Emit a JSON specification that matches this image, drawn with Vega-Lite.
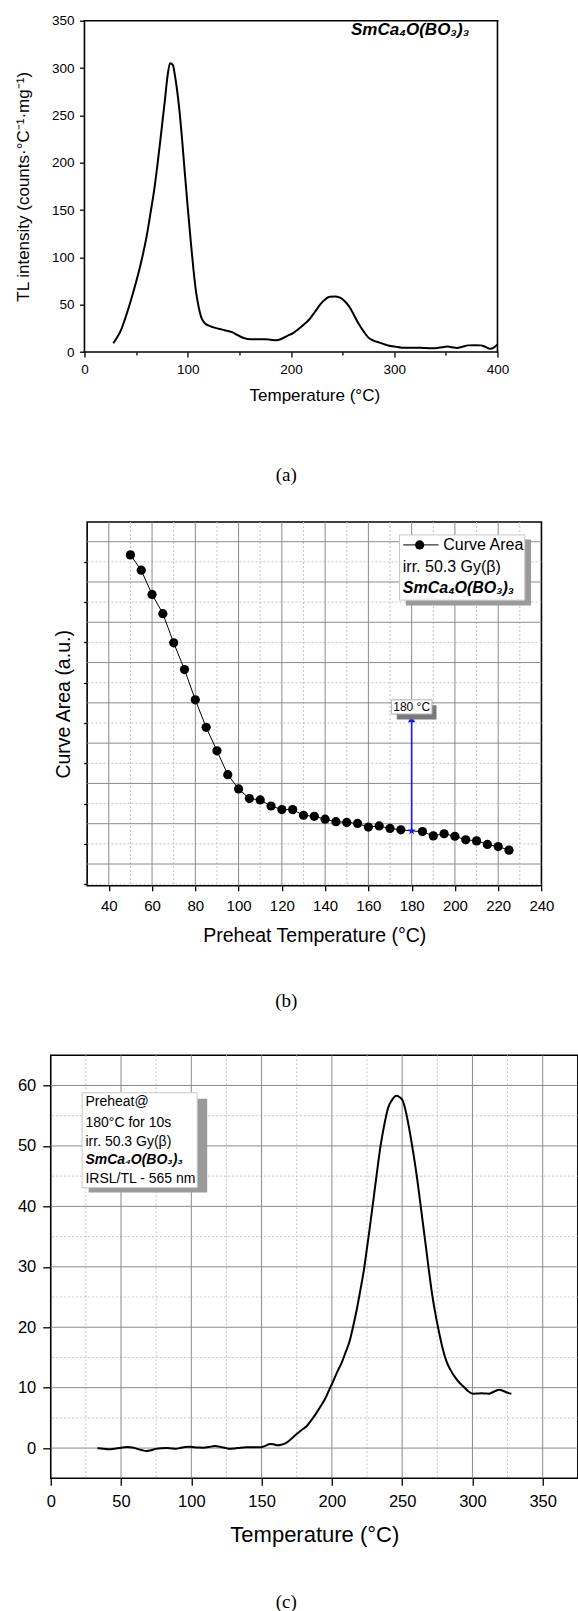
{
  "$schema": "https://vega.github.io/schema/vega-lite/v6.json",
  "autosize": {"type": "none"},
  "padding": {"left": 50.3, "top": 20.7, "right": 527.7, "bottom": 1590.3},
  "background": "white",
  "config": {
    "font": "Liberation Sans",
    "view": {"stroke": "black", "strokeWidth": 1.6},
    "axis": {"grid": false, "domain": false, "labelColor": "black", "titleColor": "black", "tickColor": "black", "tickWidth": 1.3, "labelFont": "Liberation Sans", "titleFont": "Liberation Sans", "titleFontWeight": "normal", "labelFlush": false, "labelOverlap": false},
    "title": {"font": "Liberation Serif", "fontSize": 19, "fontWeight": "normal", "color": "black"}
  },
  "datasets": {
    "one": [{"k": 0}],
    "tlA": [
      {"t": 27.9, "v": 9.2}, {"t": 32, "v": 16}, {"t": 35.7, "v": 24}, {"t": 39, "v": 34}, {"t": 42.9, "v": 47}, {"t": 48, "v": 66}, {"t": 53.6, "v": 89}, {"t": 57, "v": 105}, {"t": 60.7, "v": 125}, {"t": 64, "v": 147}, {"t": 67.9, "v": 174}, {"t": 71.5, "v": 205}, {"t": 75, "v": 238}, {"t": 78, "v": 267}, {"t": 80.4, "v": 291}, {"t": 82.9, "v": 305}, {"t": 85.7, "v": 303}, {"t": 87.5, "v": 293}, {"t": 89.3, "v": 280}, {"t": 92, "v": 255}, {"t": 94.6, "v": 224}, {"t": 97.3, "v": 188}, {"t": 100, "v": 153}, {"t": 102.7, "v": 120}, {"t": 105.4, "v": 89}, {"t": 108, "v": 64}, {"t": 110.7, "v": 47}, {"t": 113, "v": 37}, {"t": 116, "v": 31}, {"t": 120, "v": 28}, {"t": 125, "v": 26}, {"t": 130, "v": 24.5}, {"t": 135.7, "v": 23}, {"t": 142.9, "v": 21}, {"t": 148, "v": 18}, {"t": 153.6, "v": 15}, {"t": 158, "v": 13.8}, {"t": 164.3, "v": 13.4}, {"t": 170, "v": 13.4}, {"t": 175, "v": 13.4}, {"t": 180, "v": 13}, {"t": 185.7, "v": 12.4}, {"t": 191, "v": 14}, {"t": 196.4, "v": 17}, {"t": 202, "v": 20}, {"t": 207, "v": 24}, {"t": 212, "v": 28.5}, {"t": 217.9, "v": 34.6}, {"t": 223, "v": 42}, {"t": 228.6, "v": 50.5}, {"t": 233, "v": 55.5}, {"t": 237.5, "v": 58.3}, {"t": 242.9, "v": 58.6}, {"t": 246.5, "v": 57.8}, {"t": 250, "v": 55.8}, {"t": 253.5, "v": 52}, {"t": 257, "v": 47}, {"t": 261.5, "v": 38}, {"t": 266, "v": 29}, {"t": 270.5, "v": 21.5}, {"t": 275, "v": 15.2}, {"t": 280, "v": 12}, {"t": 285.7, "v": 9.9}, {"t": 291, "v": 8}, {"t": 296.4, "v": 6.4}, {"t": 301.5, "v": 5.5}, {"t": 307, "v": 4.6}, {"t": 314, "v": 4.4}, {"t": 321, "v": 4.6}, {"t": 328, "v": 4.3}, {"t": 335.7, "v": 3.9}, {"t": 343, "v": 4.5}, {"t": 351.8, "v": 5.7}, {"t": 356, "v": 5}, {"t": 360.7, "v": 4.2}, {"t": 366, "v": 5.5}, {"t": 371.4, "v": 7}, {"t": 378, "v": 7.2}, {"t": 383.9, "v": 7}, {"t": 388, "v": 5.5}, {"t": 392.9, "v": 3.5}, {"t": 396.4, "v": 4.6}, {"t": 400, "v": 8.1}
    ],
    "pre": [
      {"t": 50, "area": 17346}, {"t": 55, "area": 16585}, {"t": 60, "area": 15383}, {"t": 65, "area": 14428}, {"t": 70, "area": 12978}, {"t": 75, "area": 11652}, {"t": 80, "area": 10149}, {"t": 85, "area": 8788}, {"t": 90, "area": 7620}, {"t": 95, "area": 6435}, {"t": 100, "area": 5728}, {"t": 105, "area": 5251}, {"t": 110, "area": 5180}, {"t": 115, "area": 4880}, {"t": 120, "area": 4703}, {"t": 125, "area": 4700}, {"t": 130, "area": 4420}, {"t": 135, "area": 4367}, {"t": 140, "area": 4225}, {"t": 145, "area": 4101}, {"t": 150, "area": 4066}, {"t": 155, "area": 4013}, {"t": 160, "area": 3836}, {"t": 165, "area": 3889}, {"t": 170, "area": 3765}, {"t": 175, "area": 3695}, {"t": 180, "area": 3642}, {"t": 185, "area": 3608}, {"t": 190, "area": 3396}, {"t": 195, "area": 3502}, {"t": 200, "area": 3378}, {"t": 205, "area": 3201}, {"t": 210, "area": 3148}, {"t": 215, "area": 2971}, {"t": 220, "area": 2865}, {"t": 225, "area": 2689}
    ],
    "tlC": [
      {"t": 33.3, "v": 0}, {"t": 37.5, "v": -0.1}, {"t": 41.9, "v": -0.2}, {"t": 45, "v": -0.1}, {"t": 48.5, "v": 0}, {"t": 52, "v": 0.15}, {"t": 55, "v": 0.2}, {"t": 58, "v": 0.1}, {"t": 61.6, "v": -0.13}, {"t": 65, "v": -0.35}, {"t": 68.2, "v": -0.47}, {"t": 71.5, "v": -0.35}, {"t": 74.7, "v": -0.13}, {"t": 78.5, "v": -0.02}, {"t": 82.6, "v": 0}, {"t": 86, "v": -0.05}, {"t": 89.1, "v": -0.1}, {"t": 92.5, "v": 0.05}, {"t": 95.7, "v": 0.2}, {"t": 99, "v": 0.22}, {"t": 102.2, "v": 0.13}, {"t": 105.5, "v": 0.08}, {"t": 108.8, "v": 0.07}, {"t": 112.5, "v": 0.18}, {"t": 116.7, "v": 0.33}, {"t": 119.5, "v": 0.25}, {"t": 121.9, "v": 0.13}, {"t": 124.5, "v": 0}, {"t": 127.2, "v": -0.13}, {"t": 131, "v": -0.05}, {"t": 135, "v": 0.07}, {"t": 139, "v": 0.12}, {"t": 142.9, "v": 0.13}, {"t": 146, "v": 0.12}, {"t": 149.4, "v": 0.13}, {"t": 152.5, "v": 0.35}, {"t": 156, "v": 0.67}, {"t": 158.5, "v": 0.62}, {"t": 161.2, "v": 0.47}, {"t": 164, "v": 0.55}, {"t": 166.5, "v": 0.73}, {"t": 170, "v": 1.3}, {"t": 174.3, "v": 2.2}, {"t": 178, "v": 2.9}, {"t": 182.2, "v": 3.66}, {"t": 186, "v": 4.8}, {"t": 190.1, "v": 6.2}, {"t": 193, "v": 7.3}, {"t": 195.3, "v": 8.2}, {"t": 198, "v": 9.6}, {"t": 200.6, "v": 10.9}, {"t": 204, "v": 12.7}, {"t": 207.1, "v": 14.2}, {"t": 210, "v": 16}, {"t": 212.4, "v": 17.5}, {"t": 215, "v": 20}, {"t": 217.6, "v": 22.8}, {"t": 220, "v": 25.8}, {"t": 222.8, "v": 29.5}, {"t": 224.8, "v": 32.8}, {"t": 226.8, "v": 36.2}, {"t": 229.5, "v": 41}, {"t": 232, "v": 45.5}, {"t": 234.5, "v": 49.8}, {"t": 237.3, "v": 53.5}, {"t": 240, "v": 56.3}, {"t": 242.5, "v": 57.5}, {"t": 245.9, "v": 58.3}, {"t": 248, "v": 58.1}, {"t": 250.4, "v": 57.5}, {"t": 253, "v": 55.3}, {"t": 255.6, "v": 52.1}, {"t": 258.3, "v": 48.3}, {"t": 260.9, "v": 44.2}, {"t": 263.5, "v": 39.5}, {"t": 266.1, "v": 34.8}, {"t": 268.7, "v": 30}, {"t": 271.3, "v": 25.5}, {"t": 274, "v": 21.8}, {"t": 276.6, "v": 18.8}, {"t": 279, "v": 16.3}, {"t": 281.8, "v": 14.2}, {"t": 284.5, "v": 12.9}, {"t": 287.1, "v": 11.9}, {"t": 290.5, "v": 10.9}, {"t": 293.6, "v": 10.2}, {"t": 297, "v": 9.4}, {"t": 300.2, "v": 9}, {"t": 303.5, "v": 9.02}, {"t": 306.7, "v": 9.06}, {"t": 309.5, "v": 9.02}, {"t": 312, "v": 9}, {"t": 314, "v": 9.2}, {"t": 315.9, "v": 9.4}, {"t": 319, "v": 9.66}, {"t": 322.5, "v": 9.4}, {"t": 325, "v": 9.15}, {"t": 327.7, "v": 9}
    ]
  },
  "spacing": 169.3,
  "bounds": "flush",
  "center": true,
  "vconcat": [
    {
      "width": 459.7, "height": 331.3,
      "view": {"stroke": null},
      "title": {"text": "(a)", "orient": "bottom", "anchor": "middle", "frame": "group", "offset": 62, "dx": -28},
      "layer": [
        {"data": {"name": "tlA"},
         "mark": {"type": "line", "color": "black", "strokeWidth": 2, "interpolate": "monotone"},
         "encoding": {
           "x": {"field": "t", "type": "quantitative", "scale": {"domain": [0, 445.2], "nice": false, "zero": false},
                 "axis": {"orient": "bottom", "values": [0, 50, 100, 150, 200, 250, 300, 350, 400], "tickSize": {"condition": {"test": "datum.value % 100 !== 0", "value": 3}, "value": 5}, "labelExpr": "datum.value % 100 === 0 ? datum.label : ''", "labelFontSize": 13.5, "labelPadding": 5, "title": "Temperature (°C)", "titleFontSize": 17, "titlePadding": 12}},
           "y": {"field": "v", "type": "quantitative", "scale": {"domain": [0, 350], "nice": false, "zero": false},
                 "axis": {"orient": "left", "values": [0, 25, 50, 75, 100, 125, 150, 175, 200, 225, 250, 275, 300, 325, 350], "tickSize": {"condition": {"test": "datum.value % 50 !== 0", "value": 3}, "value": 5}, "labelExpr": "datum.value % 50 === 0 ? datum.label : ''", "labelFontSize": 13.5, "labelPadding": 5.5, "title": "TL intensity (counts·°C⁻¹·mg⁻¹)", "titleFontSize": 17, "titlePadding": 19}}}},
        {"data": {"name": "one"}, "mark": {"type": "rule", "color": "black", "strokeWidth": 1.6, "strokeCap": "square"}, "encoding": {"x": {"datum": 0, "type": "quantitative"}}},
        {"data": {"name": "one"}, "mark": {"type": "rule", "color": "black", "strokeWidth": 1.6, "strokeCap": "square"}, "encoding": {"x": {"datum": 400, "type": "quantitative"}}},
        {"data": {"name": "one"}, "mark": {"type": "rule", "color": "black", "strokeWidth": 1.6, "strokeCap": "square"}, "encoding": {"x": {"datum": 0, "type": "quantitative"}, "x2": {"datum": 400}, "y": {"datum": 350, "type": "quantitative"}}},
        {"data": {"name": "one"}, "mark": {"type": "rule", "color": "black", "strokeWidth": 1.6, "strokeCap": "square"}, "encoding": {"x": {"datum": 0, "type": "quantitative"}, "x2": {"datum": 400}, "y": {"datum": 0, "type": "quantitative"}}},
        {"data": {"values": [{"label": "SmCa₄O(BO₃)₃"}]},
         "mark": {"type": "text", "fontSize": 17, "fontWeight": "bold", "fontStyle": "italic", "align": "center", "baseline": "alphabetic", "color": "black"},
         "encoding": {"x": {"datum": 315.4, "type": "quantitative"}, "y": {"datum": 334.4, "type": "quantitative"}, "text": {"field": "label"}}}
      ]
    },
    {
      "width": 454.3, "height": 363.7,
      "title": {"text": "(b)", "orient": "bottom", "anchor": "middle", "frame": "group", "offset": 47, "dx": -28},
      "layer": [
        {"data": {"name": "one"}, "mark": {"type": "rule", "color": "#c4c4c4", "strokeWidth": 1, "strokeDash": [2, 2]}, "encoding": {"x": {"datum": 50, "type": "quantitative", "scale": {"domain": [30, 240], "nice": false, "zero": false}}}},
        {"data": {"name": "one"}, "mark": {"type": "rule", "color": "#c4c4c4", "strokeWidth": 1, "strokeDash": [2, 2]}, "encoding": {"x": {"datum": 70, "type": "quantitative"}}},
        {"data": {"name": "one"}, "mark": {"type": "rule", "color": "#c4c4c4", "strokeWidth": 1, "strokeDash": [2, 2]}, "encoding": {"x": {"datum": 90, "type": "quantitative"}}},
        {"data": {"name": "one"}, "mark": {"type": "rule", "color": "#c4c4c4", "strokeWidth": 1, "strokeDash": [2, 2]}, "encoding": {"x": {"datum": 110, "type": "quantitative"}}},
        {"data": {"name": "one"}, "mark": {"type": "rule", "color": "#c4c4c4", "strokeWidth": 1, "strokeDash": [2, 2]}, "encoding": {"x": {"datum": 130, "type": "quantitative"}}},
        {"data": {"name": "one"}, "mark": {"type": "rule", "color": "#c4c4c4", "strokeWidth": 1, "strokeDash": [2, 2]}, "encoding": {"x": {"datum": 150, "type": "quantitative"}}},
        {"data": {"name": "one"}, "mark": {"type": "rule", "color": "#c4c4c4", "strokeWidth": 1, "strokeDash": [2, 2]}, "encoding": {"x": {"datum": 170, "type": "quantitative"}}},
        {"data": {"name": "one"}, "mark": {"type": "rule", "color": "#c4c4c4", "strokeWidth": 1, "strokeDash": [2, 2]}, "encoding": {"x": {"datum": 190, "type": "quantitative"}}},
        {"data": {"name": "one"}, "mark": {"type": "rule", "color": "#c4c4c4", "strokeWidth": 1, "strokeDash": [2, 2]}, "encoding": {"x": {"datum": 210, "type": "quantitative"}}},
        {"data": {"name": "one"}, "mark": {"type": "rule", "color": "#c4c4c4", "strokeWidth": 1, "strokeDash": [2, 2]}, "encoding": {"x": {"datum": 230, "type": "quantitative"}}},
        {"data": {"name": "one"}, "mark": {"type": "rule", "color": "#c4c4c4", "strokeWidth": 1, "strokeDash": [2, 2]}, "encoding": {"y": {"datum": 1000, "type": "quantitative", "scale": {"domain": [923, 18978], "nice": false, "zero": false}}}},
        {"data": {"name": "one"}, "mark": {"type": "rule", "color": "#c4c4c4", "strokeWidth": 1, "strokeDash": [2, 2]}, "encoding": {"y": {"datum": 3000, "type": "quantitative"}}},
        {"data": {"name": "one"}, "mark": {"type": "rule", "color": "#c4c4c4", "strokeWidth": 1, "strokeDash": [2, 2]}, "encoding": {"y": {"datum": 5000, "type": "quantitative"}}},
        {"data": {"name": "one"}, "mark": {"type": "rule", "color": "#c4c4c4", "strokeWidth": 1, "strokeDash": [2, 2]}, "encoding": {"y": {"datum": 7000, "type": "quantitative"}}},
        {"data": {"name": "one"}, "mark": {"type": "rule", "color": "#c4c4c4", "strokeWidth": 1, "strokeDash": [2, 2]}, "encoding": {"y": {"datum": 9000, "type": "quantitative"}}},
        {"data": {"name": "one"}, "mark": {"type": "rule", "color": "#c4c4c4", "strokeWidth": 1, "strokeDash": [2, 2]}, "encoding": {"y": {"datum": 11000, "type": "quantitative"}}},
        {"data": {"name": "one"}, "mark": {"type": "rule", "color": "#c4c4c4", "strokeWidth": 1, "strokeDash": [2, 2]}, "encoding": {"y": {"datum": 13000, "type": "quantitative"}}},
        {"data": {"name": "one"}, "mark": {"type": "rule", "color": "#c4c4c4", "strokeWidth": 1, "strokeDash": [2, 2]}, "encoding": {"y": {"datum": 15000, "type": "quantitative"}}},
        {"data": {"name": "one"}, "mark": {"type": "rule", "color": "#c4c4c4", "strokeWidth": 1, "strokeDash": [2, 2]}, "encoding": {"y": {"datum": 17000, "type": "quantitative"}}},
        {"data": {"name": "one"}, "mark": {"type": "rule", "color": "#8a8a8a", "strokeWidth": 1}, "encoding": {"x": {"datum": 40, "type": "quantitative"}}},
        {"data": {"name": "one"}, "mark": {"type": "rule", "color": "#8a8a8a", "strokeWidth": 1}, "encoding": {"x": {"datum": 60, "type": "quantitative"}}},
        {"data": {"name": "one"}, "mark": {"type": "rule", "color": "#8a8a8a", "strokeWidth": 1}, "encoding": {"x": {"datum": 80, "type": "quantitative"}}},
        {"data": {"name": "one"}, "mark": {"type": "rule", "color": "#8a8a8a", "strokeWidth": 1}, "encoding": {"x": {"datum": 100, "type": "quantitative"}}},
        {"data": {"name": "one"}, "mark": {"type": "rule", "color": "#8a8a8a", "strokeWidth": 1}, "encoding": {"x": {"datum": 120, "type": "quantitative"}}},
        {"data": {"name": "one"}, "mark": {"type": "rule", "color": "#8a8a8a", "strokeWidth": 1}, "encoding": {"x": {"datum": 140, "type": "quantitative"}}},
        {"data": {"name": "one"}, "mark": {"type": "rule", "color": "#8a8a8a", "strokeWidth": 1}, "encoding": {"x": {"datum": 160, "type": "quantitative"}}},
        {"data": {"name": "one"}, "mark": {"type": "rule", "color": "#8a8a8a", "strokeWidth": 1}, "encoding": {"x": {"datum": 180, "type": "quantitative"}}},
        {"data": {"name": "one"}, "mark": {"type": "rule", "color": "#8a8a8a", "strokeWidth": 1}, "encoding": {"x": {"datum": 200, "type": "quantitative"}}},
        {"data": {"name": "one"}, "mark": {"type": "rule", "color": "#8a8a8a", "strokeWidth": 1}, "encoding": {"x": {"datum": 220, "type": "quantitative"}}},
        {"data": {"name": "one"}, "mark": {"type": "rule", "color": "#8a8a8a", "strokeWidth": 1}, "encoding": {"y": {"datum": 2000, "type": "quantitative"}}},
        {"data": {"name": "one"}, "mark": {"type": "rule", "color": "#8a8a8a", "strokeWidth": 1}, "encoding": {"y": {"datum": 4000, "type": "quantitative"}}},
        {"data": {"name": "one"}, "mark": {"type": "rule", "color": "#8a8a8a", "strokeWidth": 1}, "encoding": {"y": {"datum": 6000, "type": "quantitative"}}},
        {"data": {"name": "one"}, "mark": {"type": "rule", "color": "#8a8a8a", "strokeWidth": 1}, "encoding": {"y": {"datum": 8000, "type": "quantitative"}}},
        {"data": {"name": "one"}, "mark": {"type": "rule", "color": "#8a8a8a", "strokeWidth": 1}, "encoding": {"y": {"datum": 10000, "type": "quantitative"}}},
        {"data": {"name": "one"}, "mark": {"type": "rule", "color": "#8a8a8a", "strokeWidth": 1}, "encoding": {"y": {"datum": 12000, "type": "quantitative"}}},
        {"data": {"name": "one"}, "mark": {"type": "rule", "color": "#8a8a8a", "strokeWidth": 1}, "encoding": {"y": {"datum": 14000, "type": "quantitative"}}},
        {"data": {"name": "one"}, "mark": {"type": "rule", "color": "#8a8a8a", "strokeWidth": 1}, "encoding": {"y": {"datum": 16000, "type": "quantitative"}}},
        {"data": {"name": "one"}, "mark": {"type": "rule", "color": "#8a8a8a", "strokeWidth": 1}, "encoding": {"y": {"datum": 18000, "type": "quantitative"}}},
        {"data": {"name": "pre"},
         "mark": {"type": "line", "color": "black", "strokeWidth": 1},
         "encoding": {
           "x": {"field": "t", "type": "quantitative",
                 "axis": {"orient": "bottom", "values": [40, 50, 60, 70, 80, 90, 100, 110, 120, 130, 140, 150, 160, 170, 180, 190, 200, 210, 220, 230, 240],
                          "tickSize": {"condition": {"test": "datum.value % 20 !== 0", "value": 3.5}, "value": 5},
                          "labelExpr": "datum.value % 20 === 0 ? datum.label : ''", "labelFontSize": 15, "labelPadding": 7.5, "title": "Preheat Temperature (°C)", "titleFontSize": 19.5, "titlePadding": 13}},
           "y": {"field": "area", "type": "quantitative",
                 "axis": {"orient": "left", "values": [1000, 2000, 3000, 4000, 5000, 6000, 7000, 8000, 9000, 10000, 11000, 12000, 13000, 14000, 15000, 16000, 17000, 18000],
                          "tickSize": {"condition": {"test": "datum.value % 2000 !== 0", "value": 3.5}, "value": 6.5},
                          "labelExpr": "datum.value % 2000 === 0 ? datum.label : ''", "labelFontSize": 15, "labelPadding": 5.5, "title": "Curve Area (a.u.)", "titleFontSize": 19.5, "titlePadding": 5}}}},
        {"data": {"name": "pre"},
         "transform": [{"filter": "datum.t != 180"}],
         "mark": {"type": "circle", "color": "black", "size": 85, "opacity": 1},
         "encoding": {"x": {"field": "t", "type": "quantitative"}, "y": {"field": "area", "type": "quantitative"}}},
        {"data": {"name": "one"}, "mark": {"type": "rule", "color": "#1a1aff", "strokeWidth": 1.6}, "encoding": {"x": {"datum": 180, "type": "quantitative"}, "y": {"datum": 3642, "type": "quantitative"}, "y2": {"datum": 9100}}},
        {"data": {"name": "one"}, "mark": {"type": "point", "shape": "triangle-up", "filled": true, "color": "#1a1aff", "size": 55, "opacity": 1}, "encoding": {"x": {"datum": 180, "type": "quantitative"}, "y": {"datum": 9200, "type": "quantitative"}}},
        {"data": {"name": "one"}, "mark": {"type": "point", "shape": "M0,-1L0.2245,-0.309L0.951,-0.309L0.363,0.118L0.588,0.809L0,0.382L-0.588,0.809L-0.363,0.118L-0.951,-0.309L-0.2245,-0.309Z", "filled": true, "color": "#1a1aff", "size": 75, "opacity": 1}, "encoding": {"x": {"datum": 180, "type": "quantitative"}, "y": {"datum": 3642, "type": "quantitative"}}},
        {"data": {"name": "one"}, "mark": {"type": "rule", "color": "#7a7a7a", "strokeWidth": 14.2}, "encoding": {"x": {"datum": 173.1, "type": "quantitative"}, "x2": {"datum": 191.5}, "y": {"datum": 9531.5, "type": "quantitative"}}},
        {"data": {"name": "one"}, "mark": {"type": "rule", "color": "white", "strokeWidth": 14.2}, "encoding": {"x": {"datum": 170.6, "type": "quantitative"}, "x2": {"datum": 189.4}, "y": {"datum": 9796.5, "type": "quantitative"}}},
        {"data": {"name": "one"}, "mark": {"type": "rule", "color": "#b0b0b0", "strokeWidth": 1}, "encoding": {"x": {"datum": 170.6, "type": "quantitative"}, "x2": {"datum": 189.4}, "y": {"datum": 10150, "type": "quantitative"}}},
        {"data": {"name": "one"}, "mark": {"type": "rule", "color": "#b0b0b0", "strokeWidth": 1}, "encoding": {"x": {"datum": 170.6, "type": "quantitative"}, "x2": {"datum": 189.4}, "y": {"datum": 9443, "type": "quantitative"}}},
        {"data": {"name": "one"}, "mark": {"type": "rule", "color": "#b0b0b0", "strokeWidth": 1}, "encoding": {"x": {"datum": 170.6, "type": "quantitative"}, "y": {"datum": 9443, "type": "quantitative"}, "y2": {"datum": 10150}}},
        {"data": {"name": "one"}, "mark": {"type": "rule", "color": "#b0b0b0", "strokeWidth": 1}, "encoding": {"x": {"datum": 189.4, "type": "quantitative"}, "y": {"datum": 9443, "type": "quantitative"}, "y2": {"datum": 10150}}},
        {"data": {"values": [{"label": "180 °C"}]}, "mark": {"type": "text", "fontSize": 12, "align": "center", "baseline": "middle", "color": "black"}, "encoding": {"x": {"datum": 180, "type": "quantitative"}, "y": {"datum": 9790, "type": "quantitative"}, "text": {"field": "label"}}},
        {"data": {"name": "one"}, "mark": {"type": "rule", "color": "#9a9a9a", "strokeWidth": 65.9}, "encoding": {"x": {"datum": 177.3, "type": "quantitative"}, "x2": {"datum": 235.2}, "y": {"datum": 16470.5, "type": "quantitative"}}},
        {"data": {"name": "one"}, "mark": {"type": "rule", "color": "white", "strokeWidth": 65.2}, "encoding": {"x": {"datum": 174.4, "type": "quantitative"}, "x2": {"datum": 232.3}, "y": {"datum": 16718, "type": "quantitative"}}},
        {"data": {"name": "one"}, "mark": {"type": "rule", "color": "#c8c8c8", "strokeWidth": 1}, "encoding": {"x": {"datum": 174.4, "type": "quantitative"}, "x2": {"datum": 232.3}, "y": {"datum": 18336, "type": "quantitative"}}},
        {"data": {"name": "one"}, "mark": {"type": "rule", "color": "#c8c8c8", "strokeWidth": 1}, "encoding": {"x": {"datum": 174.4, "type": "quantitative"}, "x2": {"datum": 232.3}, "y": {"datum": 15100, "type": "quantitative"}}},
        {"data": {"name": "one"}, "mark": {"type": "rule", "color": "#c8c8c8", "strokeWidth": 1}, "encoding": {"x": {"datum": 174.4, "type": "quantitative"}, "y": {"datum": 15100, "type": "quantitative"}, "y2": {"datum": 18336}}},
        {"data": {"name": "one"}, "mark": {"type": "rule", "color": "#c8c8c8", "strokeWidth": 1}, "encoding": {"x": {"datum": 232.3, "type": "quantitative"}, "y": {"datum": 15100, "type": "quantitative"}, "y2": {"datum": 18336}}},
        {"data": {"name": "one"}, "mark": {"type": "rule", "color": "black", "strokeWidth": 1}, "encoding": {"x": {"datum": 176.1, "type": "quantitative"}, "x2": {"datum": 192.4}, "y": {"datum": 17841, "type": "quantitative"}}},
        {"data": {"name": "one"}, "mark": {"type": "circle", "color": "black", "size": 85, "opacity": 1}, "encoding": {"x": {"datum": 183.7, "type": "quantitative"}, "y": {"datum": 17841, "type": "quantitative"}}},
        {"data": {"values": [{"label": "Curve Area"}]}, "mark": {"type": "text", "fontSize": 16, "align": "left", "baseline": "middle", "color": "black"}, "encoding": {"x": {"datum": 194.6, "type": "quantitative"}, "y": {"datum": 17841, "type": "quantitative"}, "text": {"field": "label"}}},
        {"data": {"values": [{"label": "irr. 50.3 Gy(β)"}]}, "mark": {"type": "text", "fontSize": 16, "align": "left", "baseline": "middle", "color": "black"}, "encoding": {"x": {"datum": 175.9, "type": "quantitative"}, "y": {"datum": 16745, "type": "quantitative"}, "text": {"field": "label"}}},
        {"data": {"values": [{"label": "SmCa₄O(BO₃)₃"}]}, "mark": {"type": "text", "fontSize": 16, "fontWeight": "bold", "fontStyle": "italic", "align": "left", "baseline": "middle", "color": "black"}, "encoding": {"x": {"datum": 175.9, "type": "quantitative"}, "y": {"datum": 15719, "type": "quantitative"}, "text": {"field": "label"}}}
      ]
    },
    {
      "width": 527.1, "height": 423,
      "title": {"text": "(c)", "orient": "bottom", "anchor": "middle", "frame": "group", "offset": 47.5, "dx": -28},
      "layer": [
        {"data": {"name": "one"}, "mark": {"type": "rule", "color": "#c4c4c4", "strokeWidth": 1, "strokeDash": [2, 2]}, "encoding": {"x": {"datum": 25, "type": "quantitative", "scale": {"domain": [0, 375], "nice": false, "zero": false}}}},
        {"data": {"name": "one"}, "mark": {"type": "rule", "color": "#c4c4c4", "strokeWidth": 1, "strokeDash": [2, 2]}, "encoding": {"x": {"datum": 75, "type": "quantitative"}}},
        {"data": {"name": "one"}, "mark": {"type": "rule", "color": "#c4c4c4", "strokeWidth": 1, "strokeDash": [2, 2]}, "encoding": {"x": {"datum": 125, "type": "quantitative"}}},
        {"data": {"name": "one"}, "mark": {"type": "rule", "color": "#c4c4c4", "strokeWidth": 1, "strokeDash": [2, 2]}, "encoding": {"x": {"datum": 175, "type": "quantitative"}}},
        {"data": {"name": "one"}, "mark": {"type": "rule", "color": "#c4c4c4", "strokeWidth": 1, "strokeDash": [2, 2]}, "encoding": {"x": {"datum": 225, "type": "quantitative"}}},
        {"data": {"name": "one"}, "mark": {"type": "rule", "color": "#c4c4c4", "strokeWidth": 1, "strokeDash": [2, 2]}, "encoding": {"x": {"datum": 275, "type": "quantitative"}}},
        {"data": {"name": "one"}, "mark": {"type": "rule", "color": "#c4c4c4", "strokeWidth": 1, "strokeDash": [2, 2]}, "encoding": {"x": {"datum": 325, "type": "quantitative"}}},
        {"data": {"name": "one"}, "mark": {"type": "rule", "color": "#c4c4c4", "strokeWidth": 1, "strokeDash": [2, 2]}, "encoding": {"y": {"datum": 5, "type": "quantitative", "scale": {"domain": [-5, 65], "nice": false, "zero": false}}}},
        {"data": {"name": "one"}, "mark": {"type": "rule", "color": "#c4c4c4", "strokeWidth": 1, "strokeDash": [2, 2]}, "encoding": {"y": {"datum": 15, "type": "quantitative"}}},
        {"data": {"name": "one"}, "mark": {"type": "rule", "color": "#c4c4c4", "strokeWidth": 1, "strokeDash": [2, 2]}, "encoding": {"y": {"datum": 25, "type": "quantitative"}}},
        {"data": {"name": "one"}, "mark": {"type": "rule", "color": "#c4c4c4", "strokeWidth": 1, "strokeDash": [2, 2]}, "encoding": {"y": {"datum": 35, "type": "quantitative"}}},
        {"data": {"name": "one"}, "mark": {"type": "rule", "color": "#c4c4c4", "strokeWidth": 1, "strokeDash": [2, 2]}, "encoding": {"y": {"datum": 45, "type": "quantitative"}}},
        {"data": {"name": "one"}, "mark": {"type": "rule", "color": "#c4c4c4", "strokeWidth": 1, "strokeDash": [2, 2]}, "encoding": {"y": {"datum": 55, "type": "quantitative"}}},
        {"data": {"name": "one"}, "mark": {"type": "rule", "color": "#8a8a8a", "strokeWidth": 1}, "encoding": {"x": {"datum": 50, "type": "quantitative"}}},
        {"data": {"name": "one"}, "mark": {"type": "rule", "color": "#8a8a8a", "strokeWidth": 1}, "encoding": {"x": {"datum": 100, "type": "quantitative"}}},
        {"data": {"name": "one"}, "mark": {"type": "rule", "color": "#8a8a8a", "strokeWidth": 1}, "encoding": {"x": {"datum": 150, "type": "quantitative"}}},
        {"data": {"name": "one"}, "mark": {"type": "rule", "color": "#8a8a8a", "strokeWidth": 1}, "encoding": {"x": {"datum": 200, "type": "quantitative"}}},
        {"data": {"name": "one"}, "mark": {"type": "rule", "color": "#8a8a8a", "strokeWidth": 1}, "encoding": {"x": {"datum": 250, "type": "quantitative"}}},
        {"data": {"name": "one"}, "mark": {"type": "rule", "color": "#8a8a8a", "strokeWidth": 1}, "encoding": {"x": {"datum": 300, "type": "quantitative"}}},
        {"data": {"name": "one"}, "mark": {"type": "rule", "color": "#8a8a8a", "strokeWidth": 1}, "encoding": {"x": {"datum": 350, "type": "quantitative"}}},
        {"data": {"name": "one"}, "mark": {"type": "rule", "color": "#8a8a8a", "strokeWidth": 1}, "encoding": {"y": {"datum": 0, "type": "quantitative"}}},
        {"data": {"name": "one"}, "mark": {"type": "rule", "color": "#8a8a8a", "strokeWidth": 1}, "encoding": {"y": {"datum": 10, "type": "quantitative"}}},
        {"data": {"name": "one"}, "mark": {"type": "rule", "color": "#8a8a8a", "strokeWidth": 1}, "encoding": {"y": {"datum": 20, "type": "quantitative"}}},
        {"data": {"name": "one"}, "mark": {"type": "rule", "color": "#8a8a8a", "strokeWidth": 1}, "encoding": {"y": {"datum": 30, "type": "quantitative"}}},
        {"data": {"name": "one"}, "mark": {"type": "rule", "color": "#8a8a8a", "strokeWidth": 1}, "encoding": {"y": {"datum": 40, "type": "quantitative"}}},
        {"data": {"name": "one"}, "mark": {"type": "rule", "color": "#8a8a8a", "strokeWidth": 1}, "encoding": {"y": {"datum": 50, "type": "quantitative"}}},
        {"data": {"name": "one"}, "mark": {"type": "rule", "color": "#8a8a8a", "strokeWidth": 1}, "encoding": {"y": {"datum": 60, "type": "quantitative"}}},
        {"data": {"name": "tlC"},
         "mark": {"type": "line", "color": "black", "strokeWidth": 2, "interpolate": "monotone"},
         "encoding": {
           "x": {"field": "t", "type": "quantitative",
                 "axis": {"orient": "bottom", "values": [0, 25, 50, 75, 100, 125, 150, 175, 200, 225, 250, 275, 300, 325, 350],
                          "tickSize": {"condition": {"test": "datum.value % 50 !== 0", "value": 4}, "value": 7},
                          "labelExpr": "datum.value % 50 === 0 ? datum.label : ''", "labelFontSize": 16.5, "labelPadding": 8.5, "title": "Temperature (°C)", "titleFontSize": 22, "titlePadding": 14}},
           "y": {"field": "v", "type": "quantitative",
                 "axis": {"orient": "left", "values": [0, 5, 10, 15, 20, 25, 30, 35, 40, 45, 50, 55, 60],
                          "tickSize": {"condition": {"test": "datum.value % 10 !== 0", "value": 4}, "value": 8},
                          "labelExpr": "datum.value % 10 === 0 ? datum.label : ''", "labelFontSize": 16.5, "labelPadding": 7, "title": null}}}},
        {"data": {"name": "one"}, "mark": {"type": "rule", "color": "#9a9a9a", "strokeWidth": 93.7}, "encoding": {"x": {"datum": 27.0, "type": "quantitative"}, "x2": {"datum": 111.3}, "y": {"datum": 50.05, "type": "quantitative"}}},
        {"data": {"name": "one"}, "mark": {"type": "rule", "color": "white", "strokeWidth": 94.9}, "encoding": {"x": {"datum": 22.3, "type": "quantitative"}, "x2": {"datum": 104.2}, "y": {"datum": 50.95, "type": "quantitative"}}},
        {"data": {"name": "one"}, "mark": {"type": "rule", "color": "#c8c8c8", "strokeWidth": 1}, "encoding": {"x": {"datum": 22.3, "type": "quantitative"}, "x2": {"datum": 104.2}, "y": {"datum": 58.8, "type": "quantitative"}}},
        {"data": {"name": "one"}, "mark": {"type": "rule", "color": "#c8c8c8", "strokeWidth": 1}, "encoding": {"x": {"datum": 22.3, "type": "quantitative"}, "x2": {"datum": 104.2}, "y": {"datum": 43.1, "type": "quantitative"}}},
        {"data": {"name": "one"}, "mark": {"type": "rule", "color": "#c8c8c8", "strokeWidth": 1}, "encoding": {"x": {"datum": 22.3, "type": "quantitative"}, "y": {"datum": 43.1, "type": "quantitative"}, "y2": {"datum": 58.8}}},
        {"data": {"name": "one"}, "mark": {"type": "rule", "color": "#c8c8c8", "strokeWidth": 1}, "encoding": {"x": {"datum": 104.2, "type": "quantitative"}, "y": {"datum": 43.1, "type": "quantitative"}, "y2": {"datum": 58.8}}},
        {"data": {"values": [{"label": "Preheat@"}]}, "mark": {"type": "text", "fontSize": 14, "align": "left", "baseline": "middle", "color": "black"}, "encoding": {"x": {"datum": 24.7, "type": "quantitative"}, "y": {"datum": 57.2, "type": "quantitative"}, "text": {"field": "label"}}},
        {"data": {"values": [{"label": "180°C for 10s"}]}, "mark": {"type": "text", "fontSize": 14, "align": "left", "baseline": "middle", "color": "black"}, "encoding": {"x": {"datum": 24.7, "type": "quantitative"}, "y": {"datum": 53.75, "type": "quantitative"}, "text": {"field": "label"}}},
        {"data": {"values": [{"label": "irr. 50.3 Gy(β)"}]}, "mark": {"type": "text", "fontSize": 14, "align": "left", "baseline": "middle", "color": "black"}, "encoding": {"x": {"datum": 24.7, "type": "quantitative"}, "y": {"datum": 50.65, "type": "quantitative"}, "text": {"field": "label"}}},
        {"data": {"values": [{"label": "SmCa₄O(BO₃)₃"}]}, "mark": {"type": "text", "fontSize": 14, "fontWeight": "bold", "fontStyle": "italic", "align": "left", "baseline": "middle", "color": "black"}, "encoding": {"x": {"datum": 24.7, "type": "quantitative"}, "y": {"datum": 47.7, "type": "quantitative"}, "text": {"field": "label"}}},
        {"data": {"values": [{"label": "IRSL/TL - 565 nm"}]}, "mark": {"type": "text", "fontSize": 14, "align": "left", "baseline": "middle", "color": "black"}, "encoding": {"x": {"datum": 24.7, "type": "quantitative"}, "y": {"datum": 44.5, "type": "quantitative"}, "text": {"field": "label"}}}
      ]
    }
  ]
}
